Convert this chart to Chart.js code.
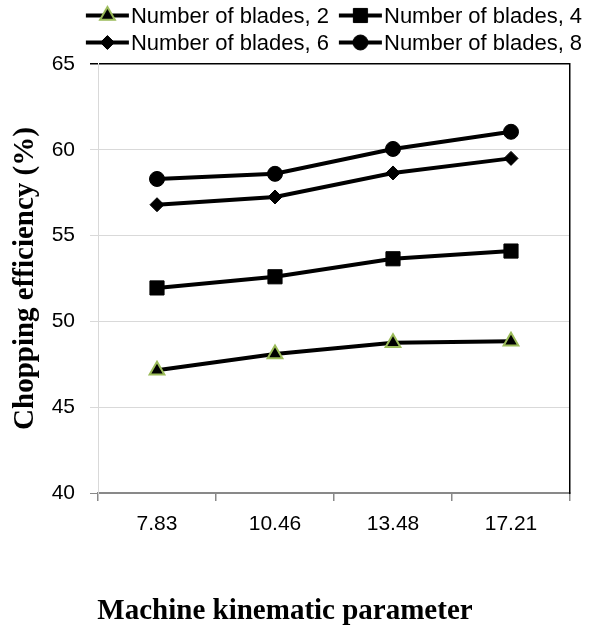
<!DOCTYPE html>
<html>
<head>
<meta charset="utf-8">
<script src="https://cdn.jsdelivr.net/npm/chart.js@4.4.1/dist/chart.umd.min.js"></script>
<style>
  html, body { margin: 0; padding: 0; background: #fff; }
  #wrap { position: relative; width: 595px; height: 634px; }
  #legend {
    position: absolute; top: 2px; left: 334px; transform: translateX(-50%);
    display: grid; grid-template-columns: auto auto; column-gap: 10px;
    font: 22px "Liberation Sans", Arial, sans-serif; color: #000; white-space: nowrap;
  }
  .item { display: flex; align-items: center; height: 27px; }
  .item canvas { margin-right: 2px; }
</style>
</head>
<body>
<div id="wrap">
  <canvas id="mycanvas" width="595" height="634"></canvas>
  <div id="legend"></div>
</div>
<script>
var categories = ['7.83', '10.46', '13.48', '17.21'];
var blades2 = [47.15, 48.1, 48.75, 48.85];
var blades4 = [51.95, 52.6, 53.65, 54.1];
var blades6 = [56.8, 57.25, 58.65, 59.5];
var blades8 = [58.3, 58.6, 60.05, 61.05];
var seriesNames = ['Number of blades, 2', 'Number of blades, 4', 'Number of blades, 6', 'Number of blades, 8'];
var yMin = 40, yMax = 65, yStep = 5;

var sans = 'Liberation Sans';
var serif = 'Liberation Serif';

function lineSet(label, data, style, radius, bg, border, bw) {
  return {
    label: label,
    data: data,
    borderColor: '#000',
    borderWidth: 4,
    fill: false,
    tension: 0,
    pointStyle: style,
    pointRadius: radius,
    pointHoverRadius: radius,
    pointBackgroundColor: bg,
    pointBorderColor: border,
    pointBorderWidth: bw
  };
}

var chartdata = {
  labels: categories,
  datasets: [
    lineSet(seriesNames[0], blades2, 'triangle', 8.5, '#000', '#9bbb59', 2),
    lineSet(seriesNames[1], blades4, 'rect', 10, '#000', '#000', 1),
    lineSet(seriesNames[2], blades6, 'rectRot', 7, '#000', '#000', 1),
    lineSet(seriesNames[3], blades8, 'circle', 7.5, '#000', '#000', 1)
  ]
};

function gridColor(c) {
  if (!c.tick) return '#d9d9d9';
  if (c.tick.value === yMax) return '#000';
  if (c.tick.value === yMin) return '#898989';
  return '#d9d9d9';
}

var ctx = document.getElementById('mycanvas');
var LineGraph = new Chart(ctx, {
  type: 'line',
  data: chartdata,
  options: {
    responsive: false,
    animation: false,
    layout: { padding: { top: 64, right: 25, bottom: 0, left: 0 } },
    plugins: {
      legend: { display: false },
      tooltip: { enabled: false },
      title: {
        display: true,
        position: 'bottom',
        text: 'Machine kinematic parameter',
        color: '#000',
        font: { family: serif, size: 29, weight: 'bold' },
        padding: { top: 46, bottom: 5 }
      }
    },
    scales: {
      x: {
        type: 'category',
        offset: true,
        grid: { drawOnChartArea: false, offset: true, tickLength: 8, color: '#898989', lineWidth: 1.5 },
        border: { color: '#898989', width: 1.5 },
        ticks: { color: '#000', font: { family: sans, size: 21 }, padding: 11 }
      },
      y: {
        min: yMin,
        max: yMax,
        ticks: { stepSize: yStep, color: '#000', font: { family: sans, size: 21 }, padding: 15 },
        grid: {
          color: gridColor,
          tickColor: gridColor,
          lineWidth: function(c) { return c.tick && c.tick.value === yMax ? 1.5 : 1; },
          tickLength: 8
        },
        border: { color: '#d9d9d9', width: 1 },
        title: {
          display: true,
          text: 'Chopping efficiency (%)',
          color: '#000',
          font: { family: serif, size: 29, weight: 'bold' },
          padding: { top: 8, bottom: 0 }
        },
        afterFit: function(s) { s.width = 98; }
      },
      yRight: {
        position: 'right',
        min: yMin,
        max: yMax,
        grid: { drawOnChartArea: false, drawTicks: false },
        ticks: { display: false },
        border: { color: '#000', width: 1.5 },
        afterFit: function(s) { s.width = 0; }
      }
    }
  }
});

// html legend: line with marker, then the series name
var legend = document.getElementById('legend');
LineGraph.data.datasets.forEach(function(ds) {
  var item = document.createElement('div');
  item.className = 'item';
  var c = document.createElement('canvas');
  c.width = 43; c.height = 27;
  var g = c.getContext('2d');
  g.strokeStyle = '#000';
  g.lineWidth = 4;
  g.beginPath(); g.moveTo(0, 13.5); g.lineTo(43, 13.5); g.stroke();
  g.fillStyle = ds.pointBackgroundColor;
  g.strokeStyle = ds.pointBorderColor;
  g.lineWidth = ds.pointBorderWidth;
  Chart.helpers.drawPoint(g, { pointStyle: ds.pointStyle, radius: ds.pointRadius, rotation: 0, borderWidth: ds.pointBorderWidth }, 21.5, 13.5);
  var t = document.createElement('span');
  t.textContent = ds.label;
  item.appendChild(c);
  item.appendChild(t);
  legend.appendChild(item);
});
var area = LineGraph.chartArea;
legend.style.left = ((area.left + area.right) / 2) + 'px';
</script>
</body>
</html>
